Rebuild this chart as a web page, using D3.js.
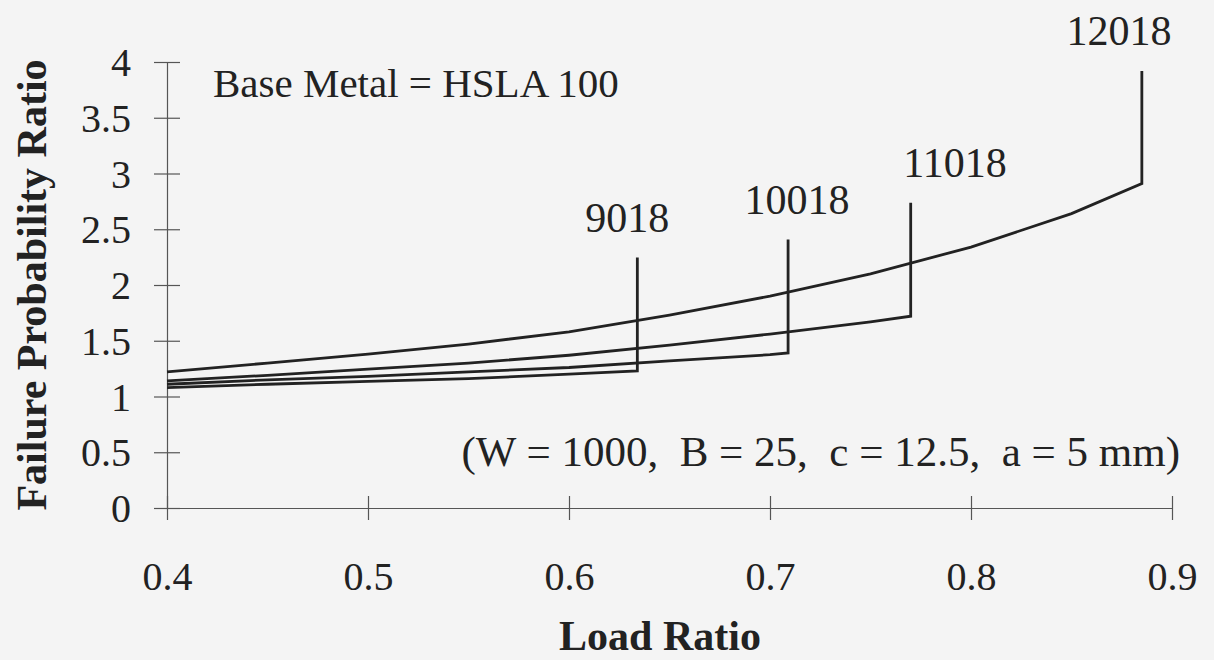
<!DOCTYPE html>
<html>
<head>
<meta charset="utf-8">
<script src="https://cdn.jsdelivr.net/npm/d3@7"></script>
<style>
  html, body { margin: 0; padding: 0; background: #f4f4f4; }
  svg { display: block; font-family: "Liberation Serif", "Times New Roman", serif; }
</style>
</head>
<body>
<svg id="chart" width="1214" height="660"></svg>
<script>
// ---- data ----
const xTicks = [0.4, 0.5, 0.6, 0.7, 0.8, 0.9];
const yTicks = [0, 0.5, 1, 1.5, 2, 2.5, 3, 3.5, 4];
const seriesNames = ["9018", "10018", "11018", "12018"];
const loadRatio9018  = [0.4, 0.45, 0.5, 0.55, 0.6, 0.634];
const ratio9018      = [1.08, 1.11, 1.135, 1.16, 1.20, 1.23];
const loadRatio10018 = [0.4, 0.45, 0.5, 0.55, 0.6, 0.65, 0.7, 0.709];
const ratio10018     = [1.11, 1.15, 1.18, 1.22, 1.26, 1.32, 1.375, 1.39];
const loadRatio11018 = [0.4, 0.45, 0.5, 0.55, 0.6, 0.65, 0.7, 0.75, 0.77];
const ratio11018     = [1.14, 1.19, 1.245, 1.30, 1.37, 1.46, 1.56, 1.67, 1.72];
const loadRatio12018 = [0.4, 0.45, 0.5, 0.55, 0.6, 0.65, 0.7, 0.75, 0.8, 0.85, 0.885];
const ratio12018     = [1.22, 1.30, 1.38, 1.47, 1.58, 1.73, 1.90, 2.10, 2.34, 2.64, 2.91];
// top of each series' marker line and label anchor (data units)
const markerTop = [2.246, 2.407, 2.738, 3.92];
const labelLoad = [0.629, 0.7134, 0.792, 0.8736];
const xTitle = "Load Ratio";
const yTitle = "Failure Probability Ratio";
const noteTop = "Base Metal = HSLA 100";
const noteBottom = "(W = 1000,  B = 25,  c = 12.5,  a = 5 mm)";

// ---- chart ----
const svg = d3.select("#chart");
const ink = "#222";
const x = d3.scaleLinear().domain([0.4, 0.9]).range([167, 1172]);
const y = d3.scaleLinear().domain([0, 4]).range([508, 62]);

const xs = [loadRatio9018, loadRatio10018, loadRatio11018, loadRatio12018];
const ys = [ratio9018, ratio10018, ratio11018, ratio12018];
const series = seriesNames.map((n, i) => ({
  name: n,
  pts: xs[i].map((v, j) => [v, ys[i][j]]),
  top: markerTop[i],
  labelX: labelLoad[i]
}));

// axes
const yAxis = svg.append("g").attr("transform", `translate(${x(0.4)},0)`)
  .call(d3.axisLeft(y).tickValues(yTicks).tickSize(13).tickSizeOuter(0).tickFormat(d3.format("")));
yAxis.selectAll(".tick line").attr("x1", -13).attr("x2", 13);
yAxis.selectAll(".tick text").attr("x", -36).attr("dy", "0.34em");

const xAxis = svg.append("g").attr("transform", `translate(0,${y(0)})`)
  .call(d3.axisBottom(x).tickValues(xTicks).tickSize(12).tickSizeOuter(0).tickFormat(d3.format(".1f")));
xAxis.selectAll(".tick line").attr("y1", -12).attr("y2", 12);
xAxis.selectAll(".tick text").attr("y", 82).attr("dy", 0);

svg.selectAll(".domain, .tick line").attr("stroke", "#555").attr("stroke-width", 1.2);
svg.selectAll(".tick text").attr("fill", ink).style("font-family", "Liberation Serif").style("font-size", "40px");

// lines
const line = d3.line().x(d => x(d[0])).y(d => y(d[1]));
svg.append("g").selectAll("path").data(series).join("path")
  .attr("d", s => line(s.pts.concat([[s.pts[s.pts.length - 1][0], s.top]])))
  .attr("fill", "none").attr("stroke", ink).attr("stroke-width", 2.8)
  .attr("stroke-linejoin", "miter");

svg.append("g").selectAll("text").data(series).join("text")
  .attr("x", s => x(s.labelX)).attr("y", s => y(s.top) - 26)
  .attr("text-anchor", "middle").attr("fill", ink).style("font-size", "42px")
  .text(s => s.name);

// notes
svg.append("text").attr("x", 213).attr("y", 97).attr("fill", ink)
  .style("font-size", "41px").text(noteTop);
svg.append("text").attr("x", 1180).attr("y", y(0.5) + 14).attr("text-anchor", "end")
  .attr("fill", ink).style("font-size", "43px").style("white-space", "pre").text(noteBottom);

// titles
svg.append("text").attr("x", 660).attr("y", 650).attr("text-anchor", "middle")
  .attr("fill", ink).style("font-size", "42px").style("font-weight", "bold").text(xTitle);
svg.append("text").attr("transform", `translate(46,${(y(0) + y(4)) / 2}) rotate(-90)`)
  .attr("text-anchor", "middle").attr("fill", ink)
  .style("font-size", "42px").style("font-weight", "bold").text(yTitle);
</script>
</body>
</html>
